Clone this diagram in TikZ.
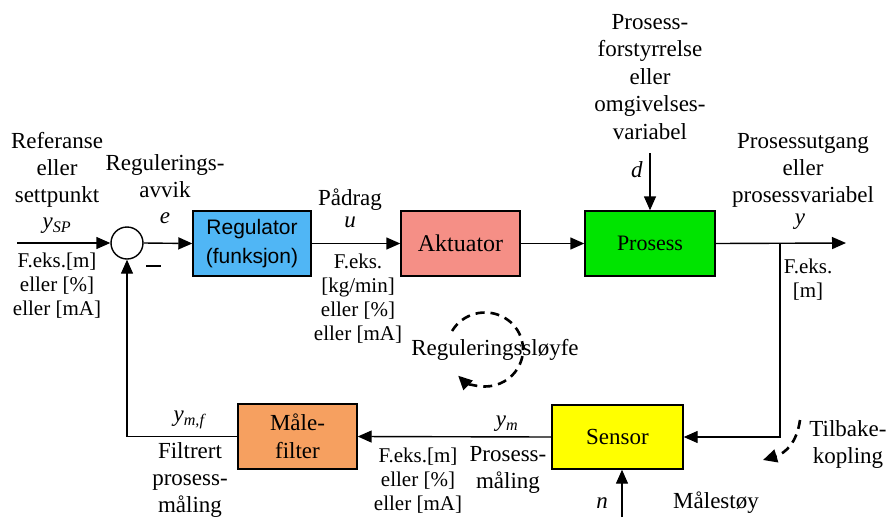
\documentclass[tikz,border=0pt]{standalone}
\usepackage{fontspec}
\setmainfont{Liberation Serif}
\newfontfamily\boxsans{Liberation Sans}
\usetikzlibrary{arrows.meta}
\newcommand\ivar[2]{\textit{#1}\textsubscript{\textit{#2}}}
\begin{document}
\begin{tikzpicture}[x=1pt,y=-1pt,
  arr/.style={line width=1.4pt,-{Triangle[length=14pt,width=12pt]}},
  blk/.style={draw,line width=1.4pt,minimum width=#1,minimum height=65pt,inner sep=0pt,
    align=center,font=\fontsize{23}{28}\selectfont},
  lbl/.style={align=center,inner sep=0pt,font=\fontsize{23}{27}\selectfont},
  unit/.style={align=center,inner sep=0pt,font=\fontsize{21}{24}\selectfont},
  loop/.style={line width=2.6pt,dash pattern=on 9pt off 6pt,
    -{Triangle[length=14pt,width=13pt]}}]
\useasboundingbox (0,0) rectangle (886,517);

% blocks
\node[blk=118pt,fill={rgb,255:red,80;green,182;blue,245},font=\boxsans\fontsize{21}{29}\selectfont]
  (reg) at (252,243.5) {Regulator\\(funksjon)};
\node[blk=119pt,fill={rgb,255:red,245;green,143;blue,134},font=\fontsize{24}{28}\selectfont] (akt) at (460.5,243.5) {Aktuator};
\node[blk=130pt,fill={rgb,255:red,0;green,228;blue,0},font=\fontsize{22}{28}\selectfont] (pro) at (650,243.5) {Prosess};
\node[blk=131pt,minimum height=64pt,fill={rgb,255:red,255;green,255;blue,0}] (sen) at (617.5,437) {Sensor};
\node[blk=119pt,fill={rgb,255:red,246;green,160;blue,96}] (filt) at (297.5,436.5) {Måle-\\filter};
\node[draw,circle,line width=1.4pt,minimum size=32pt,inner sep=0pt] (sum) at (127,243) {};

% free ends of connectors
\coordinate (in) at (17,243);
\coordinate (out) at (846,243);
\coordinate (branch) at (780,243);
\coordinate (dtop) at (650,153);
\coordinate (nbot) at (622,517);
\coordinate (m1) at (146,266);
\coordinate (m2) at (161,266);

% signal flow
\draw[arr] (in) -- (sum.west);
\draw[arr] (sum.east) -- (reg.west);
\draw[arr] (reg.east) -- (akt.west);
\draw[arr] (akt.east) -- (pro.west);
\draw[arr] (pro.east) -- (out);
\draw[arr] (branch) |- (sen.east);
\draw[arr] (sen.west) -- (filt.east);
\draw[arr] (filt.west) -| (sum.south);
\draw[arr] (dtop) -- (pro.north);
\draw[arr] (nbot) -- (nbot |- sen.south);
\draw[line width=1.4pt] (m1) -- (m2);

% labels
\node[lbl] (ref) at (57,170) {Referanse\\eller\\settpunkt};
\node[lbl] (ysp) at (57,226) {\ivar{y}{SP}};
\node[unit] (refu) at (57,286) {F.eks.[m]\\eller [\%]\\eller [mA]};
\node[lbl] (avv) at (165,176) {Regulerings-\\avvik};
\node[lbl] (e) at (165,218) {\textit{e}};
\node[lbl] (pad) at (350,200) {Pådrag};
\node[lbl] (u) at (350,222) {\textit{u}};
\node[unit] (padu) at (358,298.5) {F.eks.\\{}[kg/min]\\eller [\%]\\eller [mA]};
\node[lbl,font=\fontsize{23}{27.5}\selectfont] (dist) at (650,77) {Prosess-\\forstyrrelse\\eller\\omgivelses-\\variabel};
\node[lbl] (d) at (637,170) {\textit{d}};
\node[lbl] (utg) at (803,170) {Prosessutgang\\eller\\prosessvariabel};
\node[lbl] (y) at (800,222) {\textit{y}};
\node[unit] (yu) at (808,280) {F.eks.\\{}[m]};
\node[lbl] (rs) at (495,350) {Reguleringssløyfe};
\node[lbl] (ym) at (507,424) {\ivar{y}{m}};
\node[lbl] (pm) at (508,470) {Prosess-\\måling};
\node[unit] (pmu) at (418,481) {F.eks.[m]\\eller [\%]\\eller [mA]};
\node[lbl] (ymf) at (190,420) {\ivar{y}{m,f}};
\node[lbl] (fpm) at (190,480) {Filtrert\\prosess-\\måling};
\node[lbl] (tb) at (848,444.5) {Tilbake-\\kopling};
\node[lbl] (n) at (602,503) {\textit{n}};
\node[lbl] (mst) at (716,503) {Målestøy};

% loop indicators
\coordinate (lc) at (485,350);
\draw[loop] (lc) ++(-150:38) arc[start angle=-150,end angle=135,x radius=38,y radius=37];
\coordinate (tb1) at (800,420);
\coordinate (tb2) at (763,460);
\draw[loop] (tb1) .. controls (797,442) and (786,453) .. (tb2);
\end{tikzpicture}
\end{document}
